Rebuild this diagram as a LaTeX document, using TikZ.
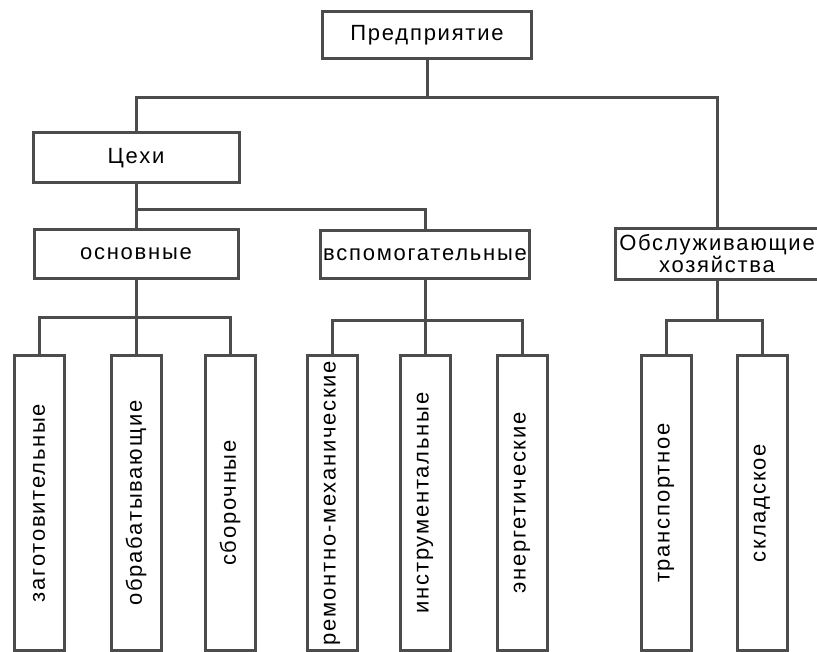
\documentclass[tikz,border=0pt]{standalone}
\usepackage{fontspec}
\setmainfont{Liberation Sans}[LetterSpace=8]
\usepackage{tikz}

\begin{document}
\begin{tikzpicture}[x=1pt,y=-1pt,
        box/.style={draw=black!70,line width=3pt,fill=white,inner sep=1pt,
            font=\fontsize{22}{22}\selectfont,align=center},
        tall/.style={box,rotate=90,minimum width=295pt,minimum height=50pt},
        link/.style={draw=black!70,line width=3pt}]
        \useasboundingbox (0,0) rectangle (817,652);
        \node[box,minimum width=209pt,minimum height=47pt] (pr) at (427,35) {Предприятие};
        \node[box,minimum width=206pt,minimum height=50pt] (cex) at (136,158) {Цехи};
        \node[box,minimum width=204pt,minimum height=49pt] (osn) at (136,254) {основные};
        \node[box,minimum width=209pt,minimum height=48pt] (vsp) at (425,255) {вспомогательные};
        \node[box,minimum width=204pt,minimum height=51pt] (obs) at (717,254) {Обслуживающие\\хозяйства};
        \node[tall] (z1) at (39,503) {заготовительные};
        \node[tall] (z2) at (136,503) {обрабатывающие};
        \node[tall] (z3) at (230,503) {сборочные};
        \node[tall] (r1) at (332,503) {ремонтно-механические};
        \node[tall] (r2) at (425,503) {инструментальные};
        \node[tall] (r3) at (522,503) {энергетические};
        \node[tall] (t1) at (666,503) {транспортное};
        \node[tall] (t2) at (762,503) {складское};
        \coordinate (b1) at (427,98);
        \coordinate (b2) at (136,210);
        \coordinate (b3) at (136,318);
        \coordinate (b4) at (425,321);
        \coordinate (b5) at (717,321);
        \draw[link] (pr.south) -- (b1);
        \draw[link] (cex.north) |- (b1) -| (obs.north);
        \draw[link] (cex.south) -- (osn.north);
        \draw[link] (b2) -| (vsp.north);
        \draw[link] (osn.south) -- (z2.east);
        \draw[link] (z1.east) |- (b3) -| (z3.east);
        \draw[link] (vsp.south) -- (r2.east);
        \draw[link] (r1.east) |- (b4) -| (r3.east);
        \draw[link] (obs.south) -- (b5);
        \draw[link] (t1.east) |- (b5) -| (t2.east);
\end{tikzpicture}
\end{document}
